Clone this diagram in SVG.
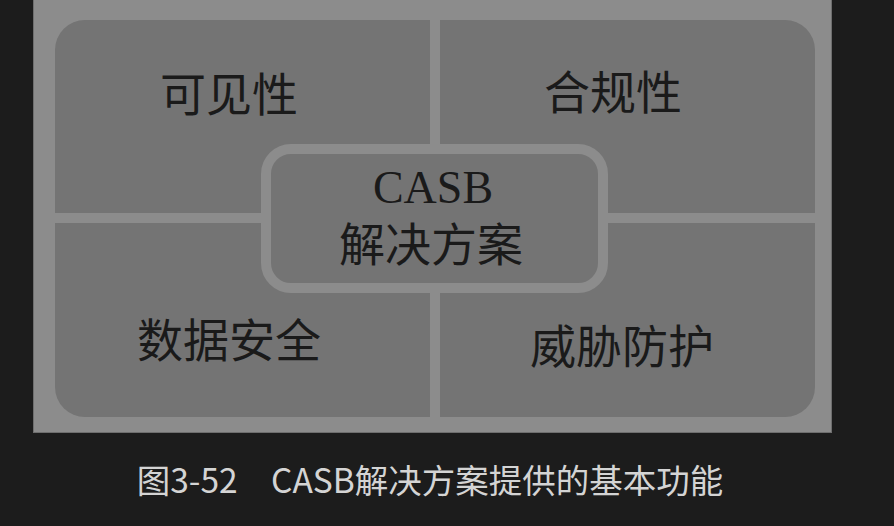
<svg xmlns="http://www.w3.org/2000/svg" width="894" height="526" viewBox="0 0 894 526">
<style>
.lbl{font-family:"Liberation Serif","Noto Sans CJK SC",serif;font-size:46px;fill:#1a1a1a;text-anchor:middle}
.quad{fill:#747474}
.gap{fill:#8c8c8c}
</style>
<rect x="0" y="0" width="894" height="526" fill="#1c1c1c"/>
<g id="panel">
<rect x="33.5" y="-1" width="798" height="433.5" fill="#8c8c8c" stroke="#6e6e6e" stroke-width="1"/>
<rect class="quad" x="55" y="20" width="760" height="397" rx="30"/>
<rect class="gap" x="430" y="20" width="10" height="397"/>
<rect class="gap" x="55" y="213" width="760" height="10"/>
</g>
<g id="connectors"></g>
<g id="visibility"><text class="lbl" x="229" y="111">可见性</text></g>
<g id="compliance"><text class="lbl" x="613" y="109">合规性</text></g>
<g id="datasec"><text class="lbl" x="229" y="357">数据安全</text></g>
<g id="threat"><text class="lbl" x="622" y="363">威胁防护</text></g>
<g id="center">
<rect x="266" y="149" width="337" height="139" rx="25" fill="#747474" stroke="#8c8c8c" stroke-width="10"/>
<text class="lbl" x="433" y="203" font-size="46">CASB</text>
<text class="lbl" x="431" y="261">解决方案</text>
</g>
<text x="430" y="493" font-family="'Noto Sans CJK SC','Noto Sans',sans-serif" font-size="33.5" fill="#d4d4d4" text-anchor="middle">图3-52　CASB解决方案提供的基本功能</text>
</svg>
